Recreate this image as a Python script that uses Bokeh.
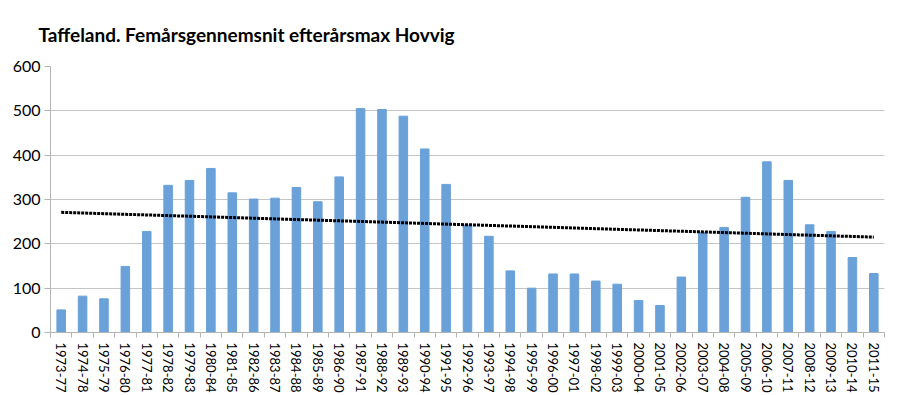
import numpy as np
from bokeh.plotting import figure
from bokeh.models import FixedTicker, Range1d
from bokeh.embed import file_html
from bokeh.resources import INLINE

periods = ["1973-77", "1974-78", "1975-79", "1976-80", "1977-81", "1978-82", "1979-83",
           "1980-84", "1981-85", "1982-86", "1983-87", "1984-88", "1985-89", "1986-90",
           "1987-91", "1988-92", "1989-93", "1990-94", "1991-95", "1992-96", "1993-97",
           "1994-98", "1995-99", "1996-00", "1997-01", "1998-02", "1999-03", "2000-04",
           "2001-05", "2002-06", "2003-07", "2004-08", "2005-09", "2006-10", "2007-11",
           "2008-12", "2009-13", "2010-14", "2011-15"]
values = [51, 82, 76, 149, 228, 332, 343, 370, 315, 301, 303, 327, 295, 351,
          505, 503, 488, 414, 334, 242, 217, 139, 100, 132, 132, 116, 109, 72,
          61, 125, 225, 237, 305, 385, 343, 243, 228, 169, 133]
y_ticks = [0, 100, 200, 300, 400, 500, 600]

n = len(periods)
xs = np.arange(1, n + 1)
slope, intercept = np.polyfit(xs, values, 1)
trend_x = [xs[0], xs[-1]]
trend_y = [slope * xs[0] + intercept, slope * xs[-1] + intercept]

p = figure(width=900, height=395, output_backend="svg", toolbar_location=None,
           x_range=Range1d(0.5, n + 0.5), y_range=Range1d(0, 600),
           min_border_left=50, min_border_right=16, min_border_top=65, min_border_bottom=40)

p.title.text = "Taffeland. Femårsgennemsnit efterårsmax Hovvig"
p.title.text_font = "Lato"
p.title.text_font_style = "bold"
p.title.text_font_size = "19px"
p.title.text_color = "#000000"
p.title.align = "left"
p.title.offset = -12
p.title.standoff = 41

p.vbar(x=xs, top=values, width=0.4, color="#6aa1d9")
p.line(x=trend_x, y=trend_y, line_color="black", line_width=3, line_dash="3 1")

p.outline_line_color = None
p.xgrid.visible = False
p.ygrid.ticker = FixedTicker(ticks=y_ticks)
p.ygrid.grid_line_color = "#c4c4c4"
p.ygrid.grid_line_width = 1

p.yaxis.ticker = FixedTicker(ticks=y_ticks)
p.yaxis.axis_line_color = "#b4b4b4"
p.yaxis.major_tick_line_color = "#b4b4b4"
p.yaxis.major_tick_out = 6
p.yaxis.major_tick_in = 0
p.yaxis.minor_tick_line_color = None
p.yaxis.major_label_text_font = "Lato"
p.yaxis.major_label_text_font_size = "16px"
p.yaxis.major_label_text_color = "#000000"
p.yaxis.major_label_standoff = 4

p.xaxis.ticker = FixedTicker(ticks=list(xs), minor_ticks=[i + 0.5 for i in range(n + 1)])
p.xaxis.major_label_overrides = {int(x): lab for x, lab in zip(xs, periods)}
p.xaxis.major_label_orientation = "vertical"
p.xaxis.major_tick_line_color = None
p.xaxis.major_tick_out = 0
p.xaxis.major_tick_in = 0
p.xaxis.minor_tick_line_color = "#b4b4b4"
p.xaxis.minor_tick_out = 5
p.xaxis.minor_tick_in = 0
p.xaxis.axis_line_color = "#b4b4b4"
p.xaxis.major_label_text_font = "Lato"
p.xaxis.major_label_text_font_size = "13px"
p.xaxis.major_label_text_color = "#000000"
p.xaxis.major_label_standoff = 5

open("out.html", "w").write(file_html(p, INLINE))
